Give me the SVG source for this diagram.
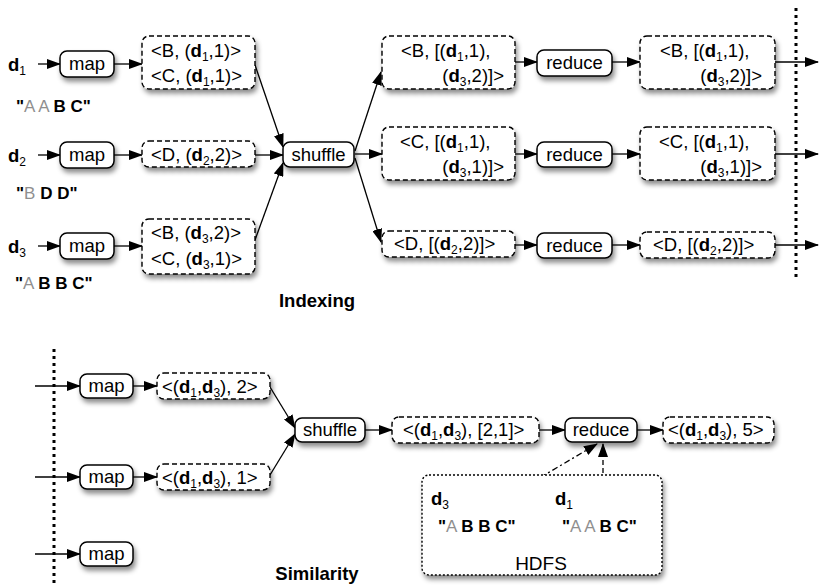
<svg xmlns="http://www.w3.org/2000/svg" width="820" height="586" viewBox="0 0 820 586">
  <style>
    text { font-family: "Liberation Sans", Arial, sans-serif; font-size: 18.5px; fill: #000; }
    .b { font-weight: bold; }
    .g { fill: #8f8f8f; }
    .q { font-size: 17px; }
    .sub { font-size: 12px; font-weight: normal; }
    .mid { text-anchor: middle; }
    .end { text-anchor: end; }
    .op { fill: #fff; stroke: #000; stroke-width: 1.5; filter: url(#shadow); }
    .kv { fill: #fff; stroke: #000; stroke-width: 1.4; stroke-dasharray: 5 3; filter: url(#shadow); }
    .store { fill: #fff; stroke: #000; stroke-width: 1.4; stroke-dasharray: 2 2; filter: url(#shadow); }
    .edge { stroke: #000; stroke-width: 1.3; fill: none; marker-end: url(#arrow); }
    .sep { stroke: #000; stroke-width: 3; stroke-dasharray: 3 4; fill: none; }
  </style>
  <defs>
    <filter id="shadow" x="-20%" y="-30%" width="150%" height="180%">
      <feDropShadow dx="2" dy="4" stdDeviation="2.5" flood-color="#000" flood-opacity="0.45"/>
    </filter>
    <marker id="arrow" markerUnits="userSpaceOnUse" markerWidth="14" markerHeight="10" viewBox="0 0 14 10" refX="13" refY="5" orient="auto">
      <path d="M0,0 L14,5 L0,10 z" fill="#000"/>
    </marker>
  </defs>

  <!-- stage separators -->
  <line class="sep" x1="796" y1="8" x2="796" y2="281"/>
  <line class="sep" x1="54" y1="349" x2="54" y2="586"/>

  <!-- connectors -->
  <g id="connectors">
    <!-- indexing -->
    <line class="edge" x1="38" y1="64" x2="60" y2="64"/>
    <line class="edge" x1="38" y1="155" x2="60" y2="155"/>
    <line class="edge" x1="38" y1="246" x2="60" y2="246"/>
    <line class="edge" x1="114" y1="64" x2="142" y2="64"/>
    <line class="edge" x1="114" y1="155" x2="142" y2="155"/>
    <line class="edge" x1="114" y1="246" x2="142" y2="246"/>
    <line class="edge" x1="255" y1="65" x2="283" y2="147"/>
    <line class="edge" x1="255" y1="155" x2="283" y2="155"/>
    <line class="edge" x1="255" y1="240" x2="283" y2="163"/>
    <line class="edge" x1="355" y1="151" x2="381" y2="72"/>
    <line class="edge" x1="355" y1="154" x2="382" y2="154"/>
    <line class="edge" x1="355" y1="158" x2="381" y2="242"/>
    <line class="edge" x1="515" y1="62" x2="537" y2="62"/>
    <line class="edge" x1="515" y1="154" x2="537" y2="154"/>
    <line class="edge" x1="515" y1="245" x2="537" y2="245"/>
    <line class="edge" x1="612" y1="62" x2="640" y2="62"/>
    <line class="edge" x1="612" y1="154" x2="640" y2="154"/>
    <line class="edge" x1="612" y1="245" x2="640" y2="245"/>
    <line class="edge" x1="775" y1="62" x2="818" y2="62"/>
    <line class="edge" x1="775" y1="154" x2="818" y2="154"/>
    <line class="edge" x1="775" y1="245" x2="818" y2="245"/>
    <!-- similarity -->
    <line class="edge" x1="35" y1="386" x2="80" y2="386"/>
    <line class="edge" x1="35" y1="477" x2="80" y2="477"/>
    <line class="edge" x1="35" y1="554" x2="80" y2="554"/>
    <line class="edge" x1="133" y1="386" x2="157" y2="386"/>
    <line class="edge" x1="133" y1="477" x2="157" y2="477"/>
    <line class="edge" x1="270" y1="387" x2="295" y2="428"/>
    <line class="edge" x1="270" y1="475" x2="295" y2="434"/>
    <line class="edge" x1="365" y1="430" x2="392" y2="430"/>
    <line class="edge" x1="539" y1="430" x2="565" y2="430"/>
    <line class="edge" x1="637" y1="430" x2="663" y2="430"/>
    <line class="edge" x1="480" y1="513" x2="597" y2="444" stroke-dasharray="6 3 2 3"/>
    <line class="edge" x1="603" y1="513" x2="603" y2="444" stroke-dasharray="5 3"/>
  </g>

  <!-- ===== Indexing ===== -->
  <g id="doc1">
    <text x="8" y="71" class="b">d<tspan class="sub" dy="4">1</tspan></text>
    <text class="q" x="16" y="112"><tspan class="b">"</tspan><tspan class="g">A A </tspan><tspan class="b">B C"</tspan></text>
  </g>
  <g id="doc2">
    <text x="8" y="162" class="b">d<tspan class="sub" dy="4">2</tspan></text>
    <text class="q" x="16" y="199"><tspan class="b">"</tspan><tspan class="g">B </tspan><tspan class="b">D D"</tspan></text>
  </g>
  <g id="doc3">
    <text x="8" y="253" class="b">d<tspan class="sub" dy="4">3</tspan></text>
    <text class="q" x="15" y="289"><tspan class="b">"</tspan><tspan class="g">A </tspan><tspan class="b">B B C"</tspan></text>
  </g>

  <g id="map1"><rect class="op" x="60" y="51" width="54" height="26" rx="7"/><text class="mid" x="87" y="70">map</text></g>
  <g id="map2"><rect class="op" x="60" y="142" width="54" height="26" rx="7"/><text class="mid" x="87" y="161">map</text></g>
  <g id="map3"><rect class="op" x="60" y="233" width="54" height="26" rx="7"/><text class="mid" x="87" y="252">map</text></g>

  <g id="mapout1">
    <rect class="kv" x="142" y="36" width="113" height="53" rx="7"/>
    <text x="151" y="57">&lt;B, (<tspan class="b">d</tspan><tspan class="sub" dy="4">1</tspan><tspan dy="-4">,1)&gt;</tspan></text>
    <text x="151" y="82">&lt;C, (<tspan class="b">d</tspan><tspan class="sub" dy="4">1</tspan><tspan dy="-4">,1)&gt;</tspan></text>
  </g>
  <g id="mapout2">
    <rect class="kv" x="142" y="141" width="113" height="26" rx="7"/>
    <text x="151" y="161">&lt;D, (<tspan class="b">d</tspan><tspan class="sub" dy="4">2</tspan><tspan dy="-4">,2)&gt;</tspan></text>
  </g>
  <g id="mapout3">
    <rect class="kv" x="142" y="219" width="113" height="55" rx="7"/>
    <text x="151" y="239">&lt;B, (<tspan class="b">d</tspan><tspan class="sub" dy="4">3</tspan><tspan dy="-4">,2)&gt;</tspan></text>
    <text x="151" y="265">&lt;C, (<tspan class="b">d</tspan><tspan class="sub" dy="4">3</tspan><tspan dy="-4">,1)&gt;</tspan></text>
  </g>

  <g id="shuffle1"><rect class="op" x="283" y="142" width="71" height="25" rx="7"/><text class="mid" x="318.5" y="161">shuffle</text></g>

  <g id="group-b">
    <rect class="kv" x="382" y="36" width="133" height="53" rx="7"/>
    <text x="401" y="57">&lt;B, [(<tspan class="b">d</tspan><tspan class="sub" dy="4">1</tspan><tspan dy="-4">,1),</tspan></text>
    <text class="end" x="504" y="82">(<tspan class="b">d</tspan><tspan class="sub" dy="4">3</tspan><tspan dy="-4">,2)]&gt;</tspan></text>
  </g>
  <g id="group-c">
    <rect class="kv" x="382" y="127" width="133" height="53" rx="7"/>
    <text x="400" y="148">&lt;C, [(<tspan class="b">d</tspan><tspan class="sub" dy="4">1</tspan><tspan dy="-4">,1),</tspan></text>
    <text class="end" x="504" y="173">(<tspan class="b">d</tspan><tspan class="sub" dy="4">3</tspan><tspan dy="-4">,1)]&gt;</tspan></text>
  </g>
  <g id="group-d">
    <rect class="kv" x="382" y="231" width="133" height="26" rx="7"/>
    <text x="394" y="250">&lt;D, [(<tspan class="b">d</tspan><tspan class="sub" dy="4">2</tspan><tspan dy="-4">,2)]&gt;</tspan></text>
  </g>

  <g id="reduce1"><rect class="op" x="537" y="50" width="75" height="26" rx="7"/><text class="mid" x="574.5" y="69">reduce</text></g>
  <g id="reduce2"><rect class="op" x="537" y="142" width="75" height="25" rx="7"/><text class="mid" x="574.5" y="161">reduce</text></g>
  <g id="reduce3"><rect class="op" x="537" y="233" width="75" height="25" rx="7"/><text class="mid" x="574.5" y="252">reduce</text></g>

  <g id="index-b">
    <rect class="kv" x="640" y="36" width="135" height="53" rx="7"/>
    <text x="660" y="57">&lt;B, [(<tspan class="b">d</tspan><tspan class="sub" dy="4">1</tspan><tspan dy="-4">,1),</tspan></text>
    <text class="end" x="762" y="82">(<tspan class="b">d</tspan><tspan class="sub" dy="4">3</tspan><tspan dy="-4">,2)]&gt;</tspan></text>
  </g>
  <g id="index-c">
    <rect class="kv" x="640" y="127" width="135" height="53" rx="7"/>
    <text x="659" y="148">&lt;C, [(<tspan class="b">d</tspan><tspan class="sub" dy="4">1</tspan><tspan dy="-4">,1),</tspan></text>
    <text class="end" x="762" y="173">(<tspan class="b">d</tspan><tspan class="sub" dy="4">3</tspan><tspan dy="-4">,1)]&gt;</tspan></text>
  </g>
  <g id="index-d">
    <rect class="kv" x="640" y="232" width="135" height="26" rx="7"/>
    <text x="653" y="251">&lt;D, [(<tspan class="b">d</tspan><tspan class="sub" dy="4">2</tspan><tspan dy="-4">,2)]&gt;</tspan></text>
  </g>

  <text id="label-indexing" class="b mid" x="317" y="307">Indexing</text>

  <!-- ===== Similarity ===== -->
  <g id="smap1"><rect class="op" x="80" y="374" width="53" height="24" rx="7"/><text class="mid" x="106.5" y="392">map</text></g>
  <g id="smap2"><rect class="op" x="80" y="465" width="53" height="24" rx="7"/><text class="mid" x="106.5" y="483">map</text></g>
  <g id="smap3"><rect class="op" x="80" y="542" width="53" height="24" rx="7"/><text class="mid" x="106.5" y="560">map</text></g>

  <g id="pair1">
    <rect class="kv" x="157" y="373" width="113" height="26" rx="7"/>
    <text x="162" y="393">&lt;(<tspan class="b">d</tspan><tspan class="sub" dy="4">1</tspan><tspan dy="-4">,</tspan><tspan class="b">d</tspan><tspan class="sub" dy="4">3</tspan><tspan dy="-4">), 2&gt;</tspan></text>
  </g>
  <g id="pair2">
    <rect class="kv" x="157" y="464" width="113" height="26" rx="7"/>
    <text x="162" y="484">&lt;(<tspan class="b">d</tspan><tspan class="sub" dy="4">1</tspan><tspan dy="-4">,</tspan><tspan class="b">d</tspan><tspan class="sub" dy="4">3</tspan><tspan dy="-4">), 1&gt;</tspan></text>
  </g>

  <g id="shuffle2"><rect class="op" x="295" y="418" width="70" height="24" rx="7"/><text class="mid" x="330" y="436">shuffle</text></g>

  <g id="pair-group">
    <rect class="kv" x="392" y="417" width="147" height="26" rx="7"/>
    <text x="403" y="436">&lt;(<tspan class="b">d</tspan><tspan class="sub" dy="4">1</tspan><tspan dy="-4">,</tspan><tspan class="b">d</tspan><tspan class="sub" dy="4">3</tspan><tspan dy="-4">), [2,1]&gt;</tspan></text>
  </g>

  <g id="reduce4"><rect class="op" x="565" y="418" width="72" height="24" rx="7"/><text class="mid" x="601" y="436">reduce</text></g>

  <g id="pair-score">
    <rect class="kv" x="663" y="417" width="111" height="26" rx="7"/>
    <text x="668" y="436">&lt;(<tspan class="b">d</tspan><tspan class="sub" dy="4">1</tspan><tspan dy="-4">,</tspan><tspan class="b">d</tspan><tspan class="sub" dy="4">3</tspan><tspan dy="-4">), 5&gt;</tspan></text>
  </g>

  <g id="hdfs">
    <rect class="store" x="422" y="475" width="240" height="100" rx="7"/>
    <text x="431" y="505" class="b">d<tspan class="sub" dy="4">3</tspan></text>
    <text class="q" x="438" y="532"><tspan class="b">"</tspan><tspan class="g">A </tspan><tspan class="b">B B C"</tspan></text>
    <text x="555" y="505" class="b">d<tspan class="sub" dy="4">1</tspan></text>
    <text class="q" x="562" y="532"><tspan class="b">"</tspan><tspan class="g">A A </tspan><tspan class="b">B C"</tspan></text>
    <text class="mid" x="541" y="570" style="font-size:19px">HDFS</text>
  </g>

  <text id="label-similarity" class="b mid" x="317" y="580">Similarity</text>
</svg>
